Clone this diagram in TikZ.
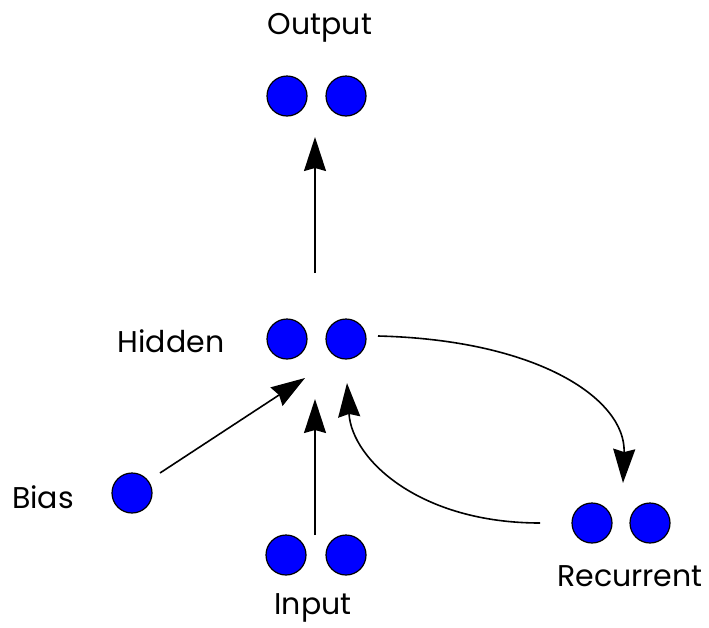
\documentclass[tikz,border=0pt]{standalone}
\usepackage{fontspec}
\setmainfont{Poppins}
\usetikzlibrary{arrows.meta}
\begin{document}
\begin{tikzpicture}[x=1pt,y=-1pt,
  unit/.style={circle,draw=black,line width=1.2pt,fill=netblue,minimum size=40pt,inner sep=0pt},
  label text/.style={font=\fontsize{30}{34}\selectfont,inner sep=0pt},
  link/.style={line width=1.6pt,-{Stealth[length=34pt,width=22pt,inset=3pt]}}]
\definecolor{netblue}{RGB}{0,0,255}
\useasboundingbox (0,0) rectangle (709,627);

% layer units
\node[unit] (o1) at (287,96) {};
\node[unit] (o2) at (346,96) {};
\node[unit] (h1) at (287,339) {};
\node[unit] (h2) at (346,339) {};
\node[unit] (b1) at (132,493) {};
\node[unit] (i1) at (286,555) {};
\node[unit] (i2) at (346,555) {};
\node[unit] (r1) at (592,523) {};
\node[unit] (r2) at (650,523) {};

% layer names
\node[label text] (tout) at (320,28) {Output};
\node[label text] (thid) at (171,341) {Hidden};
\node[label text] (tbias) at (43,497) {Bias};
\node[label text] (tin) at (313,608) {Input};
\node[label text] (trec) at (630,576) {Recurrent};

% connector end points
\coordinate (hidTop) at (315,273);
\coordinate (outIn) at (315,137);
\coordinate (biasOut) at (160,473);
\coordinate (hidBias) at (305,378);
\coordinate (inTop) at (315,535);
\coordinate (hidIn) at (315,399);
\coordinate (hidOut) at (378,336);
\coordinate (recIn) at (623,483);
\coordinate (recOut) at (540,523);
\coordinate (hidRec) at (347,383);

% connectors
\draw[link] (hidTop) -- (outIn);
\draw[link] (biasOut) -- (hidBias);
\draw[link] (inTop) -- (hidIn);
\draw[link] (hidOut) .. controls (540,340) and (626,400) .. (recIn);
\draw[link] (recOut) .. controls (420,523) and (352,460) .. (hidRec);
\end{tikzpicture}
\end{document}
